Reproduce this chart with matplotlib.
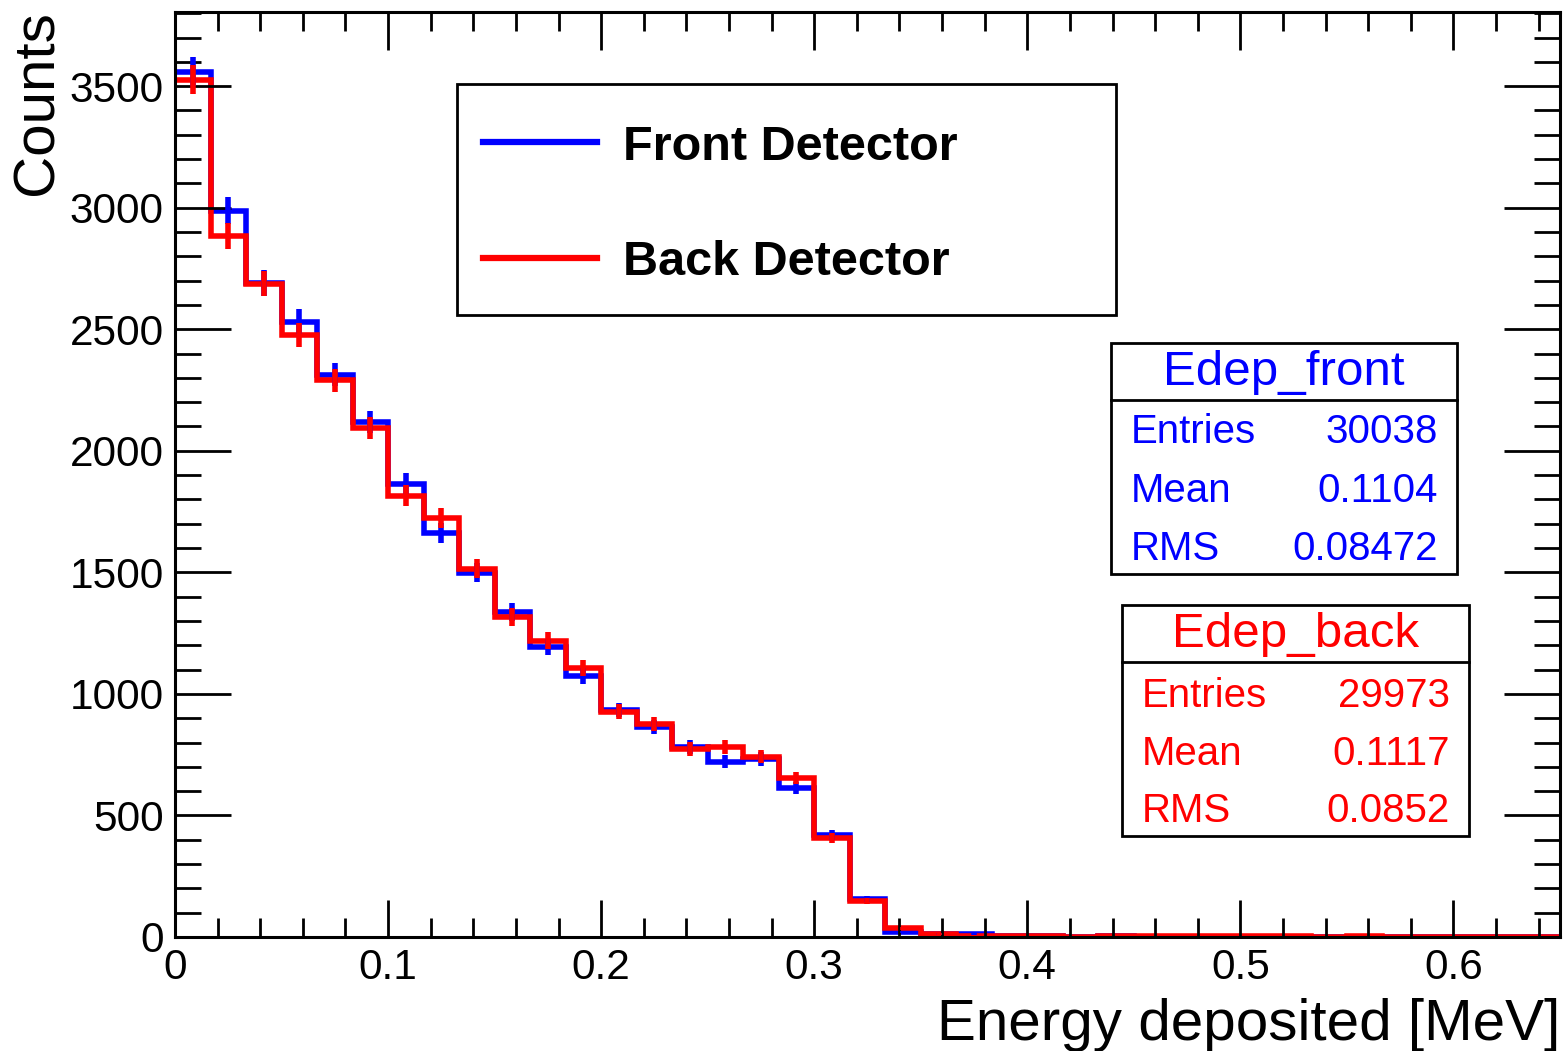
import numpy as np
import matplotlib.pyplot as plt
from matplotlib.patches import Rectangle
from matplotlib.lines import Line2D

plt.rcParams['font.family'] = ['Liberation Sans', 'DejaVu Sans']

# histogram binning: 39 bins from 0 to 0.65 MeV
e_min, e_max, n_bins = 0.0, 0.65, 39

front_counts = [3560, 2988, 2690, 2531, 2313, 2119, 1864, 1662, 1498, 1337,
                1193, 1074, 934, 864, 782, 720, 732, 613, 420, 156,
                22, 12, 14, 4, 3, 1, 3, 2, 2, 0,
                2, 2, 1, 2, 1, 1, 1, 1, 0]
back_counts = [3527, 2885, 2687, 2477, 2290, 2095, 1815, 1724, 1514, 1317,
               1218, 1107, 926, 876, 774, 782, 741, 654, 407, 148,
               36, 12, 6, 3, 3, 1, 4, 4, 3, 3,
               3, 4, 2, 4, 2, 2, 2, 2, 2]

legend_labels = ['Front Detector', 'Back Detector']
stat_names = ['Edep_front', 'Edep_back']
stat_rows = ['Entries', 'Mean', 'RMS']
front_stats = ['30038', '0.1104', '0.08472']
back_stats = ['29973', '0.1117', '0.0852']

W, H = 1565, 1051
fig = plt.figure(figsize=(W / 100, H / 100), dpi=100)


def fx(px):
    return px / W


def fy(py):
    return 1 - py / H


ax = fig.add_axes([fx(175), fy(937), fx(1560) - fx(175), fy(12) - fy(937)])

edges = np.linspace(e_min, e_max, n_bins + 1)
centers = 0.5 * (edges[:-1] + edges[1:])

for counts, col in [(front_counts, 'blue'), (back_counts, 'red')]:
    c = np.array(counts, dtype=float)
    ax.stairs(c, edges, baseline=None, color=col, lw=4)
    ax.errorbar(centers, c, yerr=np.sqrt(c), fmt='none', ecolor=col, elinewidth=4, capsize=0)

ax.set_xlim(e_min, e_max)
ax.set_ylim(0, 3805)
ax.set_xticks(np.arange(0, 0.61, 0.1))
ax.set_xticklabels(['0', '0.1', '0.2', '0.3', '0.4', '0.5', '0.6'])
ax.set_xticks(np.arange(0, 0.651, 0.02), minor=True)
ax.set_yticks(np.arange(0, 3501, 500))
ax.set_yticks(np.arange(0, 3801, 100), minor=True)

ax.tick_params(which='both', direction='in', top=True, right=True, width=2, labelsize=30.5)
ax.tick_params(axis='x', which='major', length=27, pad=8)
ax.tick_params(axis='x', which='minor', length=14)
ax.tick_params(axis='y', which='major', length=40, pad=8)
ax.tick_params(axis='y', which='minor', length=19)
for s in ax.spines.values():
    s.set_linewidth(2.2)

fig.text(fx(38), fy(10), 'Counts', rotation=90, ha='center', va='top', fontsize=42)
fig.text(fx(1560), fy(1040), 'Energy deposited [MeV]', ha='right', va='baseline', fontsize=42)

# legend box
fig.add_artist(Rectangle((fx(457), fy(315)), fx(1116) - fx(457), fy(84) - fy(315),
                         transform=fig.transFigure, facecolor='white', edgecolor='black', lw=2))
for lab, col, ly, tb in [(legend_labels[0], 'blue', 142, 160), (legend_labels[1], 'red', 258, 275)]:
    fig.add_artist(Line2D([fx(483), fx(597)], [fy(ly), fy(ly)], color=col, lw=4.5,
                          transform=fig.transFigure))
    fig.text(fx(623), fy(tb), lab, fontsize=35, fontweight='bold', ha='left', va='baseline')

# stats boxes
boxes = [
    (stat_names[0], front_stats, 'blue', (1111, 343, 1457, 574), 400, 385, [443, 502, 560], 1131, 1438),
    (stat_names[1], back_stats, 'red', (1122, 605, 1469, 836), 662, 647, [707, 765, 822], 1142, 1450),
]
for name, vals, col, (x0, y0, x1, y1), ydiv, ytitle, yrows, xl, xr in boxes:
    fig.add_artist(Rectangle((fx(x0), fy(y1)), fx(x1) - fx(x0), fy(y0) - fy(y1),
                             transform=fig.transFigure, facecolor='white', edgecolor='black', lw=2))
    fig.add_artist(Line2D([fx(x0), fx(x1)], [fy(ydiv), fy(ydiv)], color='black', lw=2,
                          transform=fig.transFigure))
    fig.text(fx((x0 + x1) / 2), fy(ytitle), name, color=col, fontsize=35.5, ha='center', va='baseline')
    for row, v, yr in zip(stat_rows, vals, yrows):
        fig.text(fx(xl), fy(yr), row, color=col, fontsize=29, ha='left', va='baseline')
        fig.text(fx(xr), fy(yr), v, color=col, fontsize=29, ha='right', va='baseline')

fig.savefig('out.png', dpi=100, facecolor='white')
